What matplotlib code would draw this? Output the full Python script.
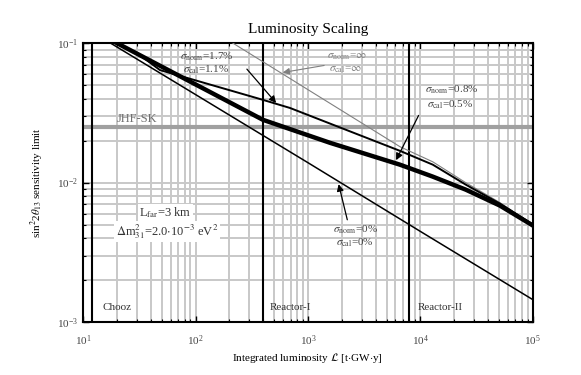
import matplotlib
matplotlib.use("Agg")
import matplotlib.pyplot as plt
from matplotlib.ticker import LogLocator, NullFormatter

plt.rcParams['font.family'] = ['Liberation Serif', 'DejaVu Serif']
plt.rcParams['mathtext.fontset'] = 'stix'

# values (luminosity in t GW y, sensitivity sin^2 2theta13)
lum_zero = [15, 100, 1000, 10000, 100000]
sens_zero = [0.108, 0.0428, 0.0139, 0.00447, 0.00145]

lum_thick = [15, 20, 398, 1570, 6580, 12900, 25300, 50900, 100000]
sens_thick = [0.113, 0.1, 0.0282, 0.0193, 0.01345, 0.01104, 0.00891, 0.00685, 0.00493]

lum_17 = [20, 32, 48.3, 398, 692, 6580, 12900, 25300, 50900, 100000]
sens_17 = [0.1, 0.082, 0.0641, 0.0392, 0.0343, 0.0169, 0.01345, 0.00968, 0.00708, 0.00501]

lum_inf = [180, 215, 6580, 12900, 25300, 50900, 100000]
sens_inf = [0.109, 0.1, 0.0181, 0.0141, 0.01, 0.0072, 0.00501]

stages = [12, 400, 8000]
stage_names = ['Chooz', 'Reactor-I', 'Reactor-II']
stage_label_x = [14.8, 459, 9500]
jhf_limit = 0.0251

fig = plt.figure(figsize=(5.81, 3.75), dpi=100)
ax = fig.add_axes([0.143, 0.141, 0.774, 0.744])
ax.set_xscale('log')
ax.set_yscale('log')
ax.set_xlim(10, 1e5)
ax.set_ylim(1e-3, 1e-1)

gridc = '#c8c8c8'
ax.xaxis.set_minor_locator(LogLocator(base=10, subs=range(2, 10)))
ax.yaxis.set_minor_locator(LogLocator(base=10, subs=range(2, 10)))
ax.yaxis.set_minor_formatter(NullFormatter())
ax.xaxis.set_minor_formatter(NullFormatter())
ax.grid(True, which='both', color=gridc, lw=1.4, zorder=0)
ax.set_axisbelow(True)

ax.axhline(jhf_limit, color='#a0a0a0', lw=3, zorder=1)
ax.text(20, 0.0285, 'JHF-SK', color='#707070', fontsize=9, va='center',
        ha='left', zorder=2)

for s in stages:
    ax.axvline(s, color='black', lw=1.5, zorder=3)
for name, xl in zip(stage_names, stage_label_x):
    ax.text(xl, 0.00128, name, fontsize=8, va='center', ha='left', color='#333333')

ax.plot(lum_inf, sens_inf, color='#808080', lw=0.8, zorder=4)
ax.plot(lum_zero, sens_zero, color='black', lw=1.1, zorder=4)
ax.plot(lum_17, sens_17, color='black', lw=1.4, zorder=4)
ax.plot(lum_thick, sens_thick, color='black', lw=3.2, zorder=5)

tsize = 8
ax.text(72.8, 0.0794, r'$\sigma_{\rm norm}$=1.7%', fontsize=tsize, va='center', color='#444444')
ax.text(77.4, 0.0641, r'$\sigma_{\rm cal}$=1.1%', fontsize=tsize, va='center', color='#444444')
ax.text(1475, 0.0794, r'$\sigma_{\rm norm}$=$\infty$', fontsize=tsize, va='center', color='#808080')
ax.text(1540, 0.0641, r'$\sigma_{\rm cal}$=$\infty$', fontsize=tsize, va='center', color='#808080')
ax.text(10960, 0.0462, r'$\sigma_{\rm norm}$=0.8%', fontsize=tsize, va='center', color='#444444')
ax.text(11400, 0.036, r'$\sigma_{\rm cal}$=0.5%', fontsize=tsize, va='center', color='#444444')
ax.text(1668, 0.00462, r'$\sigma_{\rm norm}$=0%', fontsize=tsize, va='center', color='#444444')
ax.text(1780, 0.00373, r'$\sigma_{\rm cal}$=0%', fontsize=tsize, va='center', color='#444444')

arr = dict(arrowstyle='-|>', color='black', lw=0.9, mutation_scale=10)
ax.annotate('', xy=(541, 0.036), xytext=(276, 0.0674), arrowprops=arr, zorder=6)
ax.annotate('', xy=(564, 0.0611), xytext=(1475, 0.0697),
            arrowprops=dict(arrowstyle='-|>', color='#808080', lw=0.8, mutation_scale=10))
ax.annotate('', xy=(5930, 0.0139), xytext=(9900, 0.0316), arrowprops=arr, zorder=6)
ax.annotate('', xy=(1850, 0.0102), xytext=(2270, 0.00518), arrowprops=arr, zorder=6)

box = dict(facecolor='white', edgecolor='none', pad=1)
ax.text(53.6, 0.0061, r'L$_{\rm far}$=3 km', fontsize=9, ha='center', va='center',
        color='#333333', bbox=box)
ax.text(55.8, 0.00447, r'$\Delta$m$^2_{31}$=2.0$\cdot$10$^{-3}$ eV$^2$', fontsize=9,
        ha='center', va='center', color='#333333', bbox=box)

ax.set_title('Luminosity Scaling', fontsize=11, pad=7)
ax.set_xlabel(r'Integrated luminosity $\mathcal{L}$ [t$\cdot$GW$\cdot$y]', fontsize=8,
              labelpad=2)
ax.set_ylabel(r'sin$^2$2$\theta_{13}$ sensitivity limit', fontsize=8, labelpad=8)

ax.tick_params(which='both', direction='in', top=True, right=True, labelsize=8,
               labelcolor='#444444')
ax.tick_params(which='major', length=4, width=1)
ax.tick_params(which='minor', length=2, width=0.8)
ax.tick_params(axis='x', pad=8)
for sp in ax.spines.values():
    sp.set_linewidth(1.5)

fig.savefig('out.png', dpi=100)
